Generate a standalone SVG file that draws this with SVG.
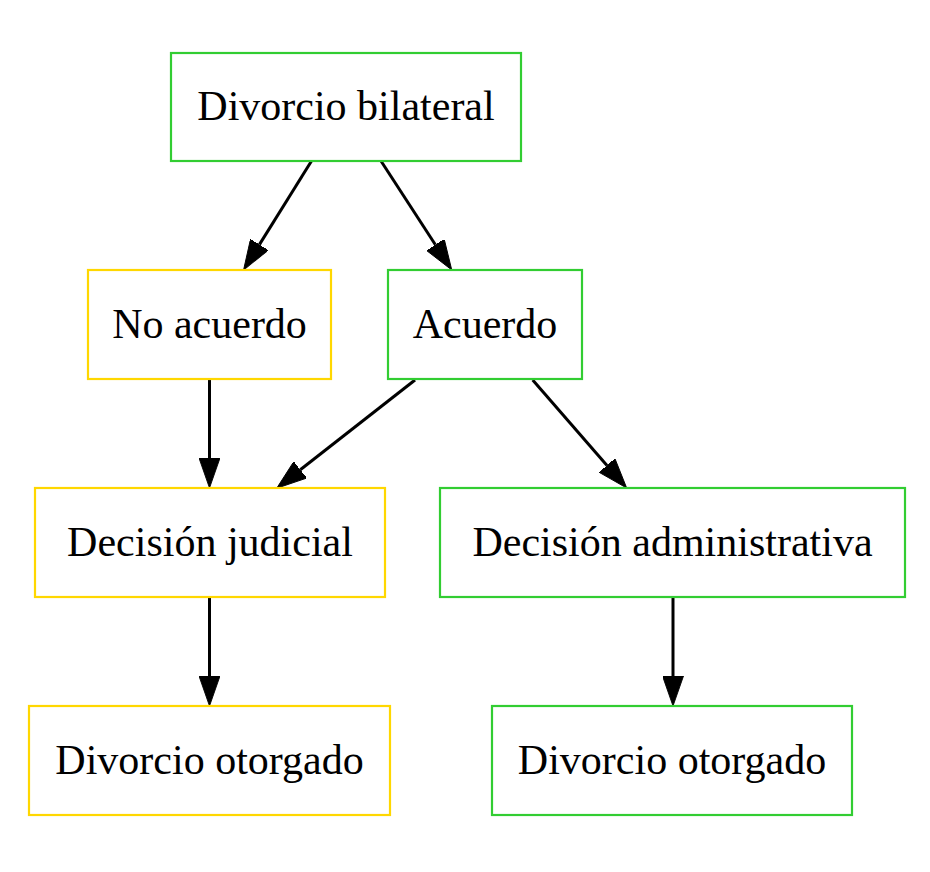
<svg xmlns="http://www.w3.org/2000/svg" width="930" height="872" viewBox="0 0 930 872">
<style>
.n rect{fill:none;stroke-width:2.2}
.g rect{stroke:#32cd32}
.y rect{stroke:#ffd700}
.n text{font-family:"Liberation Serif","Times New Roman",serif;font-size:42px;fill:#000;text-anchor:middle}
.e path{stroke:#000;stroke-width:3;fill:none;marker-end:url(#ah)}
</style>
<defs>
<marker id="ah" viewBox="0 0 10 7" markerWidth="30" markerHeight="21" refX="0" refY="3.5" orient="auto" markerUnits="userSpaceOnUse">
<polygon points="0,0 10,3.5 0,7" fill="#000" stroke="#000" stroke-width="0.3"/>
</marker>
</defs>
<rect width="930" height="872" fill="#fff"/>
<g id="edges" class="e">
<path d="M311.5,161 L259.4,244.6"/>
<path d="M381,161 L435.4,244.8"/>
<path d="M209.5,379 L209.5,458"/>
<path d="M415,380 L300.3,469.8"/>
<path d="M532.7,380 L607,465.4"/>
<path d="M209.5,597 L209.5,676"/>
<path d="M673,597 L673,676"/>
</g>
<g id="n1" class="n g"><rect x="171" y="53" width="350" height="108"/><text x="346" y="120">Divorcio bilateral</text></g>
<g id="n2" class="n y"><rect x="88" y="270" width="243" height="109"/><text x="209.5" y="338">No acuerdo</text></g>
<g id="n3" class="n g"><rect x="388" y="270" width="194" height="109"/><text x="485" y="338">Acuerdo</text></g>
<g id="n4" class="n y"><rect x="35" y="488" width="350" height="109"/><text x="210" y="556">Decisión judicial</text></g>
<g id="n5" class="n g"><rect x="440" y="488" width="465" height="109"/><text x="672.5" y="556">Decisión administrativa</text></g>
<g id="n6" class="n y"><rect x="29" y="706" width="361" height="109"/><text x="209.5" y="774">Divorcio otorgado</text></g>
<g id="n7" class="n g"><rect x="492" y="706" width="360" height="109"/><text x="672" y="774">Divorcio otorgado</text></g>
</svg>
